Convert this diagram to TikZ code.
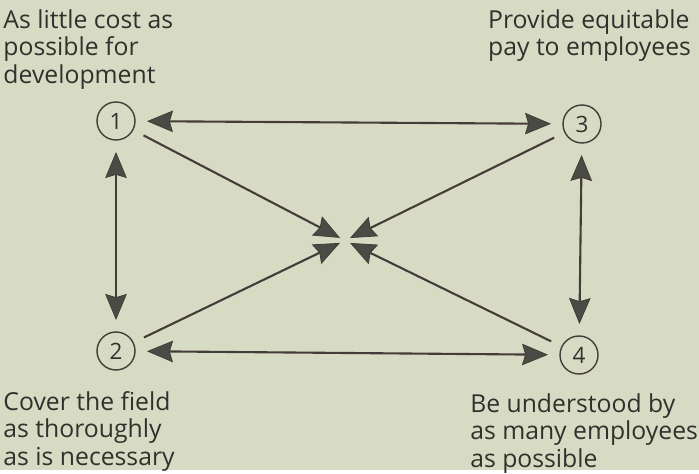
\documentclass[tikz,border=0pt]{standalone}
\usepackage{fontspec}
\setmainfont{Open Sans}
\usepackage{tikz}
\usetikzlibrary{arrows.meta,positioning}
\usepackage{xcolor}
\definecolor{paper}{RGB}{216,219,196}
\definecolor{ink}{RGB}{50,48,45}
\definecolor{line}{RGB}{68,60,56}
\definecolor{tip}{RGB}{72,76,68}

\tikzset{
  head/.tip={Stealth[length=6.5mm,width=5.4mm,inset=0.8mm,fill=tip,line width=0.6pt]}
}

\begin{document}
\begin{tikzpicture}[
    goal/.style={draw=line, line width=1pt, circle, minimum size=0.95cm, inner sep=0pt,
                 outer sep=0.3cm, text=ink,
                 font=\fontsize{16}{18}\selectfont},
    note/.style={inner sep=0pt, align=left, text=ink,
                 font=\fontsize{17.6}{19.6}\selectfont},
    arr/.style={head-head, line width=1.5pt, draw=line},
    harr/.style={-head, line width=1.5pt, draw=line, shorten >=0.14cm}
  ]
  %% Paper
  \fill[paper] (0,0) rectangle (17.475,11.75);
  %% Goals
  \node[goal] (n1) at (2.9,   8.725) {1};
  \node[goal] (n3) at (14.55, 8.65)  {3};
  \node[goal] (n2) at (2.9,   2.975) {2};
  \node[goal] (n4) at (14.475,2.875) {4};
  \coordinate (ctr) at (8.625, 5.7375);
  %% Notes
  \node[note, anchor=north west] (cost) at (0.08, 11.52)
       {As little cost as\\possible for\\development};
  \node[note, anchor=north east] (pay) at (17.28, 11.52)
       {Provide equitable\\pay to employees};
  \node[note, anchor=north west] (field) at (0.08, 1.97)
       {Cover the field\\as thoroughly\\as is necessary};
  \node[note, anchor=north west] (understood) at (11.75, 1.92)
       {Be understood by\\as many employees\\as possible};
  %% Pairs
  \draw[arr] (n1) -- (n3);
  \draw[arr] (n2) -- (n4);
  \draw[arr] (n1) -- (n2);
  \draw[arr] (n3) -- (n4);
  %% Towards the centre
  \draw[harr] (n1) -- (ctr);
  \draw[harr] (n3) -- (ctr);
  \draw[harr] (n2) -- (ctr);
  \draw[harr] (n4) -- (ctr);
\end{tikzpicture}
\end{document}
